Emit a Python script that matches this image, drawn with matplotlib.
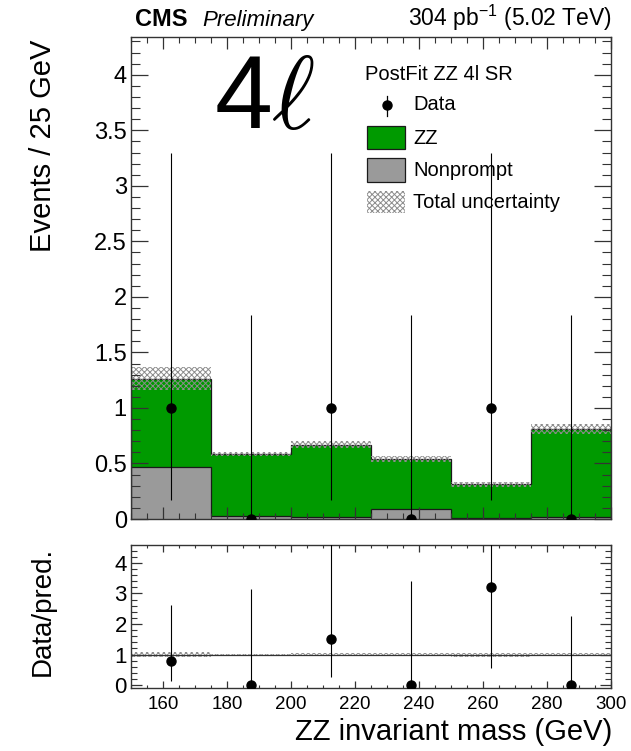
import numpy as np
import matplotlib
matplotlib.use('Agg')
import matplotlib.pyplot as plt
from matplotlib.patches import Rectangle
from matplotlib.lines import Line2D
from matplotlib.ticker import MultipleLocator

# ---------------- data ----------------
bin_edges = [150, 175, 200, 225, 250, 275, 300]
bin_centers = [162.5, 187.5, 212.5, 237.5, 262.5, 287.5]
zz = [0.798, 0.557, 0.648, 0.447, 0.306, 0.790]
nonprompt = [0.467, 0.030, 0.020, 0.092, 0.005, 0.020]
total_unc = [0.100, 0.020, 0.030, 0.030, 0.020, 0.045]
data = [1, 0, 1, 0, 1, 0]
data_err_lo = [0.827, 0.0, 0.827, 0.0, 0.827, 0.0]
data_err_hi = [2.300, 1.840, 2.300, 1.840, 2.300, 1.840]

xticks = [160, 180, 200, 220, 240, 260, 280, 300]

W, H = 631, 751
GREEN = '#009a00'
GRAY = '#9a9a9a'
HATCH_COL = '#8c8c8c'

plt.rcParams['font.family'] = ['Liberation Sans', 'DejaVu Sans']
plt.rcParams['mathtext.fontset'] = 'custom'
plt.rcParams['mathtext.rm'] = 'Liberation Sans'
plt.rcParams['mathtext.it'] = 'Liberation Sans:italic'
plt.rcParams['hatch.linewidth'] = 0.7

fig = plt.figure(figsize=(W / 100, H / 100), dpi=100)

def fx(x):
    return x / W

def fy(y):
    return 1 - y / H

ax = fig.add_axes([fx(131), fy(519), fx(611) - fx(131), fy(37) - fy(519)])
ax2 = fig.add_axes([fx(131), fy(688), fx(611) - fx(131), fy(545) - fy(688)])

zz_a = np.array(zz)
np_a = np.array(nonprompt)
tot = zz_a + np_a
unc = np.array(total_unc)
d = np.array(data, dtype=float)
elo = np.array(data_err_lo)
ehi = np.array(data_err_hi)

# stacked histograms
ax.stairs(tot, bin_edges, baseline=0, fill=True, facecolor=GREEN, edgecolor='none')
ax.stairs(tot, bin_edges, baseline=0, fill=False, color='#1a1a1a', lw=0.9)
ax.stairs(np_a, bin_edges, baseline=0, fill=True, facecolor=GRAY, edgecolor='none')
ax.stairs(np_a, bin_edges, baseline=0, fill=False, color='#1a1a1a', lw=0.9)
# uncertainty band
ax.bar(bin_centers, 2 * unc, bottom=tot - unc, width=25, facecolor='none',
       edgecolor=HATCH_COL, hatch='xxxxxx', linewidth=0)
# data
ax.errorbar(bin_centers, d, yerr=[elo, ehi], fmt='o', color='black', ms=6.5,
            elinewidth=0.8, capsize=0, zorder=5)

ax.set_xlim(150, 300)
ax.set_ylim(0, 4.34)

# ratio
ratio = d / tot
r_lo = elo / tot
r_hi = ehi / tot
runc = unc / tot
ax2.bar(bin_centers, 2 * runc, bottom=1 - runc, width=25, facecolor='none',
        edgecolor=HATCH_COL, hatch='xxxxxx', linewidth=0)
ax2.axhline(1, color='#333333', lw=0.9)
ax2.errorbar(bin_centers, ratio, yerr=[r_lo, r_hi], fmt='o', color='black', ms=6.5,
             elinewidth=0.8, capsize=0, zorder=5, clip_on=True)
ax2.set_xlim(150, 300)
ax2.set_ylim(-0.09, 4.58)

for a in (ax, ax2):
    for s in a.spines.values():
        s.set_linewidth(1.0)
        s.set_color('#333333')
    a.xaxis.set_major_locator(MultipleLocator(20))
    a.xaxis.set_minor_locator(MultipleLocator(5))
    a.tick_params(which='both', direction='in', top=True, right=True, color='#333333')

ax.yaxis.set_major_locator(MultipleLocator(0.5))
ax.yaxis.set_minor_locator(MultipleLocator(0.1))
ax.tick_params(axis='y', which='major', length=12.5, width=0.9, labelsize=17, pad=3)
ax.tick_params(axis='y', which='minor', length=6.5, width=0.8)
ax.tick_params(axis='x', which='major', length=8.5, width=0.9, labelbottom=False)
ax.tick_params(axis='x', which='minor', length=4.5, width=0.8)
ax.set_yticks([0, 0.5, 1, 1.5, 2, 2.5, 3, 3.5, 4])
ax.set_yticklabels(['0', '0.5', '1', '1.5', '2', '2.5', '3', '3.5', '4'])

ax2.yaxis.set_major_locator(MultipleLocator(1))
ax2.yaxis.set_minor_locator(MultipleLocator(0.2))
ax2.tick_params(axis='y', which='major', length=8, width=0.9, labelsize=16, pad=3)
ax2.tick_params(axis='y', which='minor', length=4, width=0.8)
ax2.tick_params(axis='x', which='major', length=5, width=0.9, labelsize=13.5, pad=6)
ax2.tick_params(axis='x', which='minor', length=2.5, width=0.8)
ax2.set_xticks(xticks)

# axis titles
fig.text(fx(43), fy(40), 'Events / 25 GeV', rotation=90, ha='center', va='top', fontsize=21)
fig.text(fx(43), fy(547), 'Data/pred.', rotation=90, ha='center', va='top', fontsize=20)
fig.text(fx(612), fy(740), 'ZZ invariant mass (GeV)', ha='right', va='baseline', fontsize=21)

# header texts
fig.text(fx(135), fy(26), 'CMS', ha='left', va='baseline', fontsize=17, weight='bold')
fig.text(fx(202), fy(26), 'Preliminary', ha='left', va='baseline', fontsize=16, style='italic')
fig.text(fx(612), fy(26), '304 pb$^{-1}$ (5.02 TeV)', ha='right', va='baseline', fontsize=16.5)

# big 4l label
fig.text(fx(214), fy(128), '4$\\ell$', ha='left', va='baseline', fontsize=75,
         math_fontfamily='cm')

# legend (manual)
fig.text(fx(365), fy(74), 'PostFit ZZ 4l SR', ha='left', va='center', fontsize=14.5)
fig.add_artist(Line2D([fx(387), fx(387)], [fy(96), fy(116)], color='black', lw=0.9,
                      transform=fig.transFigure))
fig.add_artist(Line2D([fx(387)], [fy(105)], marker='o', ms=6.5, color='black', lw=0,
                      transform=fig.transFigure))
fig.text(fx(413), fy(105), 'Data', ha='left', va='center', fontsize=14.5)

fig.add_artist(Rectangle((fx(367), fy(149)), fx(405) - fx(367), fy(126) - fy(149),
                         facecolor=GREEN, edgecolor='#1a1a1a', lw=0.9, transform=fig.transFigure))
fig.text(fx(413), fy(138), 'ZZ', ha='left', va='center', fontsize=14.5)
fig.add_artist(Rectangle((fx(367), fy(182)), fx(405) - fx(367), fy(158) - fy(182),
                         facecolor=GRAY, edgecolor='#1a1a1a', lw=0.9, transform=fig.transFigure))
fig.text(fx(413), fy(170), 'Nonprompt', ha='left', va='center', fontsize=14.5)
fig.add_artist(Rectangle((fx(367), fy(213)), fx(405) - fx(367), fy(191) - fy(213),
                         facecolor='none', edgecolor=HATCH_COL, hatch='xxxxxx', lw=0,
                         transform=fig.transFigure))
fig.text(fx(413), fy(202), 'Total uncertainty', ha='left', va='center', fontsize=14.5)

fig.savefig('out.png', dpi=100)
